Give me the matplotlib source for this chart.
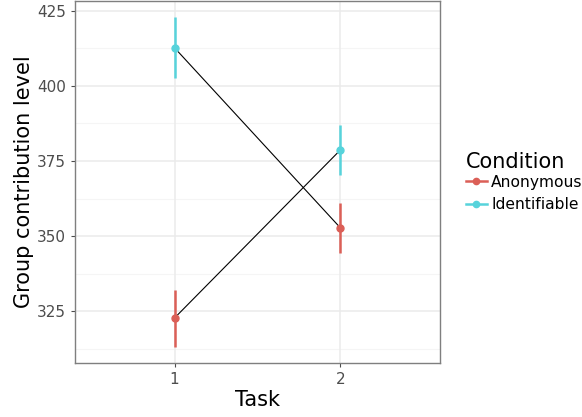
import matplotlib
matplotlib.use("Agg")
import matplotlib.pyplot as plt
from matplotlib.lines import Line2D

# Means and error bar limits per condition
tasks = [1, 2]
conditions = ["Anonymous", "Identifiable"]
anon_mean = [322.7, 352.7]
anon_low = [313.0, 344.3]
anon_high = [332.0, 361.0]
ident_mean = [412.7, 378.7]
ident_low = [402.7, 370.3]
ident_high = [423.0, 387.0]
colors = {"Anonymous": "#DB5F57", "Identifiable": "#57D3DB"}

fig = plt.figure(figsize=(5.82, 4.17), dpi=100)
ax = fig.add_axes([75 / 582, 54 / 417, 365 / 582, 362 / 417])

# grid like theme_bw
for y in [325, 350, 375, 400, 425]:
    ax.axhline(y, color="#ebebeb", lw=1.1, zorder=0)
for y in [312.5, 337.5, 362.5, 387.5, 412.5]:
    ax.axhline(y, color="#f5f5f5", lw=0.8, zorder=0)
for x in tasks:
    ax.axvline(x, color="#ebebeb", lw=1.1, zorder=0)

# black connecting lines (first task of one condition to second of the other)
ax.plot(tasks, [ident_mean[0], anon_mean[1]], color="black", lw=0.8, zorder=2)
ax.plot(tasks, [anon_mean[0], ident_mean[1]], color="black", lw=0.8, zorder=2)

for name, mean, low, high in [("Anonymous", anon_mean, anon_low, anon_high),
                              ("Identifiable", ident_mean, ident_low, ident_high)]:
    ax.vlines(tasks, low, high, color=colors[name], lw=1.8, zorder=3)
    ax.plot(tasks, mean, "o", color=colors[name], ms=5, zorder=4)

ax.set_xlim(0.4, 2.6)
ax.set_ylim(307.7, 428.3)
ax.set_xticks(tasks)
ax.set_yticks([325, 350, 375, 400, 425])
ax.tick_params(colors="#4d4d4d", labelsize=11, length=3, width=0.8)
for s in ax.spines.values():
    s.set_color("#7f7f7f")
    s.set_linewidth(1.0)

ax.set_xlabel("Task", fontsize=15, labelpad=2)
ax.set_ylabel("Group contribution level", fontsize=15, labelpad=2)

handles = [Line2D([0], [0], color=colors[c], lw=1.8, marker="o", ms=4.5) for c in conditions]
leg = ax.legend(handles, conditions, title="Condition", loc="center left",
                bbox_to_anchor=(1.055, 0.50), frameon=False, fontsize=11.2,
                title_fontsize=15, handlelength=1.3, handletextpad=0.3,
                labelspacing=0.5, alignment="left", borderaxespad=0)
leg._legend_box.sep = 2

fig.savefig("out.png", dpi=100)
